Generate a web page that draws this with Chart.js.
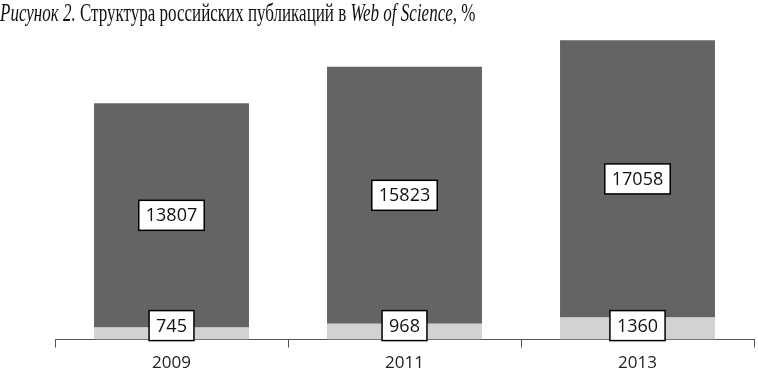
<!DOCTYPE html>
<html>
<head>
<meta charset="utf-8">
<script src="https://cdn.jsdelivr.net/npm/chart.js@4"></script>
<style>
  html, body { margin: 0; padding: 0; background: #fff; overflow: hidden; }
  #wrap { position: relative; width: 758px; height: 373px; overflow: hidden; }
  #title {
    position: absolute; left: 0; top: 0; white-space: nowrap;
    font-family: "Liberation Serif", serif; font-size: 25px; line-height: 1;
    color: #111; transform: scaleX(0.68); transform-origin: 0 0;
  }
  #title i { font-style: italic; }
</style>
</head>
<body>
<div id="wrap">
  <div id="title"><i>Рисунок 2.</i> Структура российских публикаций в <i>Web of Science</i>, %</div>
  <canvas id="chart" width="758" height="380"></canvas>
</div>
<script>
const years = ['2009', '2011', '2013'];
const smallPart = [745, 968, 1360];
const mainPart = [13807, 15823, 17058];

// draws the boxed value labels like the Excel original
const boxLabels = {
  id: 'boxLabels',
  afterDatasetsDraw(chart) {
    const ctx = chart.ctx;
    const axisY = chart.chartArea.bottom;
    ctx.save();
    ctx.font = '18px "Open Sans", sans-serif';
    ctx.textAlign = 'center';
    ctx.textBaseline = 'middle';
    chart.data.datasets.forEach((ds, di) => {
      chart.getDatasetMeta(di).data.forEach((bar, i) => {
        const txt = String(ds.data[i]);
        let cy = (bar.y + bar.base) / 2;
        cy = Math.min(cy, axisY - 14);
        const w = ctx.measureText(txt).width + 14;
        const h = 30;
        ctx.fillStyle = '#fff';
        ctx.fillRect(bar.x - w / 2, cy - h / 2, w, h);
        ctx.lineWidth = 1.5;
        ctx.strokeStyle = '#000';
        ctx.strokeRect(bar.x - w / 2, cy - h / 2, w, h);
        ctx.fillStyle = '#111';
        ctx.fillText(txt, bar.x, cy + 1);
      });
    });
    ctx.restore();
  }
};

new Chart(document.getElementById('chart'), {
  type: 'bar',
  data: {
    labels: years,
    datasets: [
      { label: 'small', data: smallPart, backgroundColor: '#d2d2d2', borderWidth: 0 },
      { label: 'main', data: mainPart, backgroundColor: '#646464', borderWidth: 0 }
    ]
  },
  options: {
    responsive: false,
    animation: false,
    layout: { padding: { top: 39, left: 55, right: 4, bottom: 2 } },
    plugins: { legend: { display: false }, tooltip: { enabled: false } },
    datasets: { bar: { categoryPercentage: 1, barPercentage: 0.665 } },
    scales: {
      x: {
        stacked: true,
        grid: { offset: true, drawOnChartArea: false, drawTicks: true, tickLength: 8, color: '#555', lineWidth: 1 },
        border: { display: true, color: '#555', width: 1 },
        ticks: { color: '#222', padding: 5, font: { family: '"Open Sans", sans-serif', size: 17 } }
      },
      y: {
        stacked: true, display: false, min: 0, max: 18500
      }
    }
  },
  plugins: [boxLabels]
});
</script>
</body>
</html>
